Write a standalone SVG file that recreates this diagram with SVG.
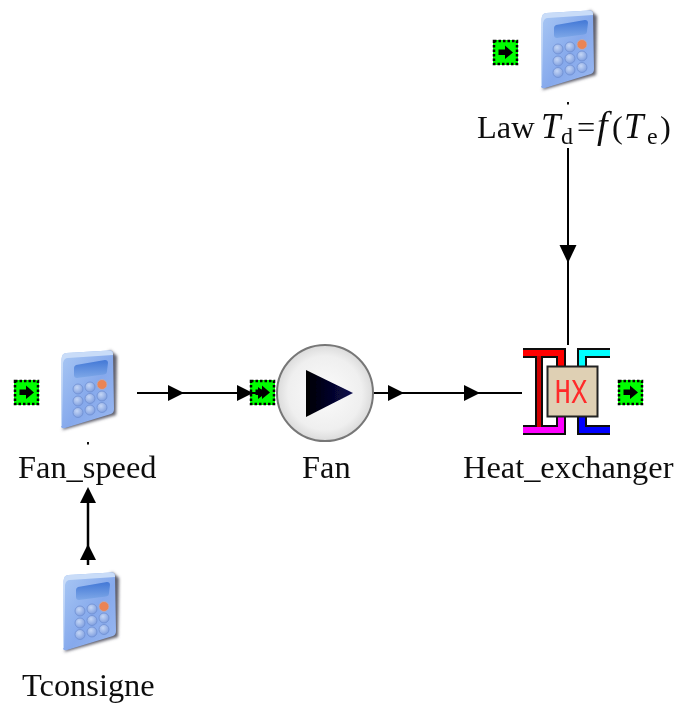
<svg xmlns="http://www.w3.org/2000/svg" xmlns:xlink="http://www.w3.org/1999/xlink" width="676" height="703" viewBox="0 0 676 703">
<style>
.t{font-family:"Liberation Serif","Times New Roman",serif;font-size:32.4px;fill:#111;filter:url(#tb)}
.i{font-style:italic;font-size:35px}
.c{stroke:#000;stroke-width:2;fill:none}
.a{fill:#000}
.k{fill:url(#key);stroke:#6f8fd2;stroke-width:.8}
.o{fill:none;stroke:#111;stroke-width:10}
.p{fill:none;stroke-width:6}
</style>
<defs>
<linearGradient id="body" x1="0" y1="0" x2="1" y2="1"><stop offset="0" stop-color="#a9c8f4"/><stop offset=".55" stop-color="#86a9ec"/><stop offset="1" stop-color="#9ab8f0"/></linearGradient>
<linearGradient id="screen" x1="0" y1="0" x2="0" y2="1"><stop offset="0" stop-color="#4378d6"/><stop offset="1" stop-color="#7ea8e8"/></linearGradient>
<radialGradient id="key" cx=".4" cy=".35" r=".7"><stop offset="0" stop-color="#c4d6f6"/><stop offset="1" stop-color="#7c9cde"/></radialGradient>
<radialGradient id="fanbg" cx=".5" cy=".5" r=".55"><stop offset="0" stop-color="#fbfbfb"/><stop offset=".7" stop-color="#efefef"/><stop offset="1" stop-color="#d2d2d2"/></radialGradient>
<linearGradient id="tri" x1="0" y1="0" x2="1" y2="0"><stop offset="0" stop-color="#000"/><stop offset="1" stop-color="#0a0a50"/></linearGradient>
<filter id="soft" x="-10%" y="-10%" width="120%" height="120%"><feGaussianBlur stdDeviation=".7"/></filter>
<filter id="tb" x="-5%" y="-10%" width="110%" height="120%"><feGaussianBlur stdDeviation=".35"/></filter>
<filter id="sh" x="-20%" y="-20%" width="140%" height="140%"><feGaussianBlur stdDeviation="1.4"/></filter>
<g id="calc">
<path d="M542 90 L596 75 L597 16 L590 10 Z" fill="#5f5f6c" filter="url(#sh)"/>
<path d="M546 13 Q542 13 541.500 19 L541 86 Q541 89 545 88 L591 74 Q594 73 594 69 L593 14 Q593 10 589 10.500 Z" fill="url(#body)"/>
<path d="M546 13 L589 10.500 Q593 10.500 593 14 L593 15 L548 18 Q544 18 543 23 L542 86 L541 86 L541.500 19 Q542 13 546 13Z" fill="#c9dcf8"/>
<path d="M556 25 L585 20 Q588 20 588 23 L587 31 Q587 34 584 34.500 L557 38 Q554 38 554 35 L554 28 Q554 26 556 25Z" fill="url(#screen)"/>
<circle class="k" cx="558" cy="49" r="5"/><circle class="k" cx="570" cy="47" r="5"/>
<circle cx="582" cy="44.500" r="5" fill="#ea8455" stroke="#b0aec6" stroke-width=".8"/>
<circle class="k" cx="558" cy="61" r="5"/><circle class="k" cx="570" cy="58.500" r="5"/><circle class="k" cx="582" cy="56" r="5"/>
<circle class="k" cx="558" cy="72.500" r="5"/><circle class="k" cx="570" cy="70" r="5"/><circle class="k" cx="582" cy="67.500" r="5"/>
</g>
<g id="port">
<rect x="0" y="0" width="25" height="25" fill="#00ff00"/>
<rect x="1" y="1" width="23" height="23" fill="none" stroke="#000" stroke-width="2.500" stroke-dasharray="2.500 2"/>
<path d="M5.500 9.500 H12 V5.500 L20 12.500 L12 19 V15 H5.500Z" fill="#000"/>
</g>
</defs>

<g id="connectors">
<path class="c" d="M568 148 V345"/>
<path class="a" d="M559.500 245 H576.500 L568 263Z"/>
<path class="c" d="M137 393 H250"/>
<path class="a" d="M168 385 L184 393 L168 401Z"/>
<path class="c" d="M373 393 H522"/>
<path class="a" d="M388 385 L404 393 L388 401Z"/>
<path class="a" d="M464 385 L480 393 L464 401Z"/>
<path d="M88 490 V565" stroke="#000" stroke-width="2.500" fill="none"/>
<path class="a" d="M88 487 L96 503 H80Z"/>
<path class="a" d="M88 544 L96 560 H80Z"/>
</g>

<g id="law">
<use xlink:href="#port" href="#port" x="493" y="40" filter="url(#tb)"/>
<use xlink:href="#calc" href="#calc" filter="url(#soft)"/>
<rect x="567" y="102" width="2" height="2.500" fill="#111"/>
<text class="t" y="138"><tspan x="477">Law</tspan><tspan class="i" x="541">T</tspan><tspan x="561" y="144" font-size="24">d</tspan><tspan x="577" y="138">=</tspan><tspan class="i" x="597" style="font-size:38px">f</tspan><tspan x="612">(</tspan><tspan class="i" x="624">T</tspan><tspan x="647" y="144" font-size="24">e</tspan><tspan x="660" y="138">)</tspan></text>
</g>

<g id="fan_speed">
<use xlink:href="#port" href="#port" x="14" y="380" filter="url(#tb)"/>
<use xlink:href="#calc" href="#calc" transform="translate(-480 340)" filter="url(#soft)"/>
<rect x="87" y="442" width="2" height="2.500" fill="#111"/>
<text class="t" x="18" y="478">Fan_speed</text>
</g>

<g id="fan">
<use xlink:href="#port" href="#port" x="250" y="380" filter="url(#tb)"/>
<path class="a" d="M237 385 L253 393 L237 401Z"/>
<path class="c" d="M245 393 H262"/>
<path class="a" d="M258 387 L266 393 L258 399Z"/>
<circle cx="325" cy="393" r="48" fill="url(#fanbg)" stroke="#777" stroke-width="2"/>
<path d="M306 370 L353 393 L306 417Z" fill="url(#tri)" filter="url(#soft)"/>
<text class="t" x="302" y="478">Fan</text>
</g>

<g id="heat_exchanger">
<g filter="url(#tb)">
<path class="o" d="M523 353 H561 V366"/>
<path class="o" d="M523 430 H561 V417"/>
<path class="o" d="M610 353 H582 V366"/>
<path class="o" d="M610 430 H582 V417"/>
<path d="M539 353 V427" fill="none" stroke="#111" stroke-width="8"/>
<path class="p" stroke="#ff0000" d="M523 353 H561 V366"/>
<path class="p" stroke="#ff00ff" d="M523 430 H561 V417"/>
<path class="p" stroke="#00ffff" d="M610 353 H582 V366"/>
<path class="p" stroke="#0000ff" d="M610 430 H582 V417"/>
<path d="M539 356 V427" fill="none" stroke="#d00000" stroke-width="4"/>
<rect x="547.500" y="366.500" width="50" height="50" fill="#dfd0b4" stroke="#222" stroke-width="2"/>
</g>
<text x="571" y="403" font-family="'Liberation Mono','DejaVu Sans Mono',monospace" font-size="35" fill="#ff2a2a" text-anchor="middle" textLength="33" lengthAdjust="spacingAndGlyphs" filter="url(#tb)">HX</text>
<use xlink:href="#port" href="#port" x="618" y="380" filter="url(#tb)"/>
<text class="t" x="463" y="478">Heat_exchanger</text>
</g>

<g id="tconsigne">
<use xlink:href="#calc" href="#calc" transform="translate(-478 562)" filter="url(#soft)"/>
<text class="t" x="22" y="696">Tconsigne</text>
</g>
</svg>
